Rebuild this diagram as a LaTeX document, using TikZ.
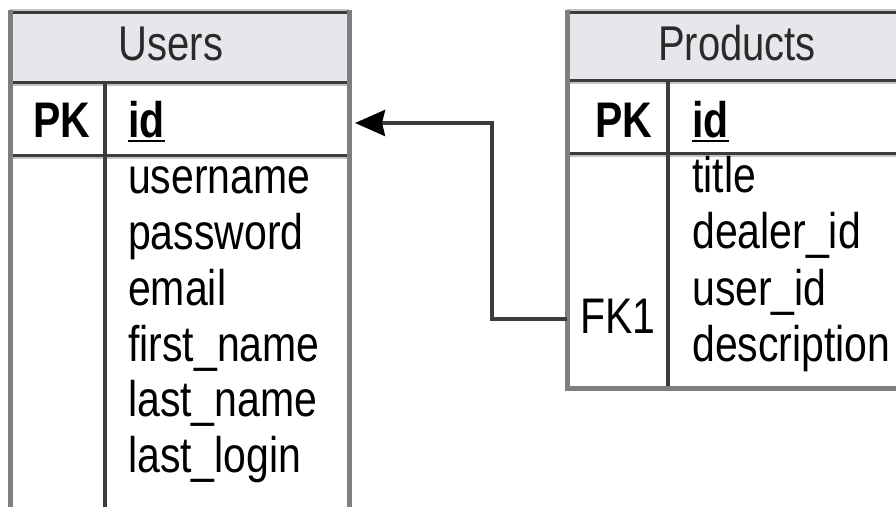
\documentclass[tikz,border=0pt]{standalone}
\usepackage{fontspec}
\setmainfont{Liberation Sans}
\usepackage{graphicx}
\usetikzlibrary{arrows.meta}
\definecolor{hdrfill}{HTML}{E6E7EB}
\definecolor{edgegray}{HTML}{7E7E7E}
\definecolor{darkline}{HTML}{3C3C3C}
\definecolor{lightline}{HTML}{C4C4C4}
\definecolor{titlegray}{HTML}{2A2A2A}
\newcommand\vs[1]{\scalebox{1}[1.22]{#1}}
\newcommand\pkul[1]{\setbox0\hbox{#1}\rlap{\rule[-4.5pt]{\wd0}{2pt}}\box0}
\begin{document}
\begin{tikzpicture}[x=1pt,y=-1pt,
  txt/.style={inner sep=0pt, anchor=base west, font=\fontsize{41}{48}\selectfont},
  ttl/.style={inner sep=0pt, anchor=base, font=\fontsize{40}{48}\selectfont, text=titlegray},
  hline/.style={darkline, line width=3pt},
  hshade/.style={lightline, line width=2pt},
  vline/.style={edgegray, line width=5pt},
  divline/.style={darkline, line width=3.5pt},
  conn/.style={darkline, line width=3.5pt, -{Stealth[length=30pt, width=26pt, inset=3pt, color=black]}}
]
\useasboundingbox (0,0) rectangle (896,506);
\clip (0,0) rectangle (896,506);
\fill[white] (0,0) rectangle (896,506);

% ---------- Users table ----------
\fill[hdrfill] (10,12) rectangle (349,82);
\draw[hshade] (10,9.5) -- (349,9.5);
\draw[hshade] (10,84.5) -- (349,84.5);
\draw[hshade] (10,157.5) -- (349,157.5);
\draw[hline] (10,12) -- (349,12);
\draw[hline] (10,82) -- (349,82);
\draw[hline] (10,155) -- (349,155);
\draw[divline] (105,82) -- (105,520);
\draw[vline] (10,10) -- (10,520);
\draw[vline] (349,10) -- (349,520);

\node[ttl] (usersT) at (171,60) {\vs{Users}};
\node[txt] (uPK) at (33,137) {\vs{\bfseries PK}};
\node[txt] (uId) at (128,137) {\vs{\bfseries\pkul{id}}};
\node[txt] (uUser) at (128,193) {\vs{username}};
\node[txt] (uPass) at (128,249) {\vs{password}};
\node[txt] (uMail) at (128,305) {\vs{email}};
\node[txt] (uFirst) at (128,361) {\vs{first\_name}};
\node[txt] (uLast) at (128,416) {\vs{last\_name}};
\node[txt] (uLogin) at (128,472) {\vs{last\_login}};

% ---------- Products table ----------
\fill[hdrfill] (567,12) rectangle (910,80);
\draw[hshade] (567,9.5) -- (910,9.5);
\draw[hshade] (567,82.5) -- (910,82.5);
\draw[hshade] (567,155.5) -- (910,155.5);
\draw[hline] (567,12) -- (910,12);
\draw[hline] (567,80) -- (910,80);
\draw[hline] (567,153) -- (910,153);
\draw[divline] (668,80) -- (668,390);
\draw[vline] (567,10) -- (567,390);
\draw[vline] (565,388) -- (910,388);

\node[ttl] (prodT) at (737,60) {\vs{Products}};
\node[txt] (pPK) at (595,137) {\vs{\bfseries PK}};
\node[txt] (pId) at (692,137) {\vs{\bfseries\pkul{id}}};
\node[txt] (pTitle) at (692,192) {\vs{title}};
\node[txt] (pDealer) at (692,248) {\vs{dealer\_id}};
\node[txt] (pUser) at (692,305) {\vs{user\_id}};
\node[txt] (pDesc) at (692,361) {\vs{description}};
\node[txt] (pFK) at (580,333) {\vs{FK1}};

% ---------- connector ----------
\coordinate (fk) at (567,319);
\coordinate (bend) at (492,123);
\coordinate (pkend) at (355,123);
\draw[conn] (fk) -| (bend) -- (pkend);
\end{tikzpicture}
\end{document}
